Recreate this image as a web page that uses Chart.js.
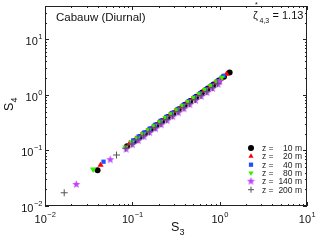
<!DOCTYPE html>
<html>
<head>
<meta charset="utf-8">
<script src="https://cdn.jsdelivr.net/npm/chart.js@4"></script>
<style>
  html, body { margin: 0; padding: 0; background: #fff; }
  #wrap { width: 319px; height: 243px; }
</style>
</head>
<body>
<div id="wrap"><canvas id="grafica" width="319" height="243"></canvas></div>
<script>
// series labels (height z)
const alturas = ['10', '20', '40', '80', '140', '200'];
const colores = ['#000000', '#ff0000', '#1f4fff', '#33ee00', '#bf3fff', '#555555'];

// S3 / S4 values
const s3_z10 = [0.040, 0.087, 0.105, 0.122, 0.140, 0.163, 0.190, 0.220, 0.255, 0.295, 0.340, 0.400, 0.460, 0.540, 0.630, 0.730, 0.850, 0.980, 1.120, 1.300];
const s4_z10 = [0.044, 0.119, 0.147, 0.174, 0.203, 0.241, 0.287, 0.338, 0.399, 0.469, 0.551, 0.661, 0.773, 0.926, 1.100, 1.300, 1.540, 1.810, 2.120, 2.540];

const s3_z20 = [0.0433, 0.093, 0.110, 0.128, 0.148, 0.172, 0.200, 0.232, 0.270, 0.310, 0.360, 0.420, 0.490, 0.570, 0.660, 0.770, 0.890, 1.030, 1.200];
const s4_z20 = [0.0546, 0.134, 0.162, 0.193, 0.226, 0.267, 0.316, 0.372, 0.440, 0.512, 0.604, 0.716, 0.850, 1.000, 1.190, 1.400, 1.660, 1.960, 2.370];

const s3_z40 = [0.0468, 0.102, 0.118, 0.137, 0.158, 0.183, 0.212, 0.245, 0.285, 0.330, 0.385, 0.445, 0.520, 0.600, 0.700, 0.810, 0.950, 1.110];
const s4_z40 = [0.0627, 0.151, 0.178, 0.210, 0.247, 0.290, 0.342, 0.402, 0.472, 0.555, 0.658, 0.772, 0.915, 1.070, 1.265, 1.490, 1.780, 2.200];

const s3_z80 = [0.0356, 0.0836, 0.098, 0.114, 0.132, 0.153, 0.178, 0.207, 0.240, 0.278, 0.322, 0.375, 0.435, 0.505, 0.585, 0.680, 0.790, 0.920, 1.060];
const s4_z80 = [0.0457, 0.114, 0.140, 0.166, 0.197, 0.232, 0.275, 0.326, 0.385, 0.453, 0.535, 0.633, 0.751, 0.885, 1.040, 1.235, 1.460, 1.730, 2.060];

const s3_z140 = [0.0228, 0.0558, 0.085, 0.100, 0.117, 0.136, 0.158, 0.184, 0.214, 0.250, 0.290, 0.337, 0.390, 0.455, 0.530, 0.615, 0.715, 0.830, 0.960, 1.000];
const s4_z140 = [0.0245, 0.068, 0.105, 0.127, 0.150, 0.177, 0.209, 0.247, 0.290, 0.344, 0.406, 0.478, 0.561, 0.667, 0.793, 0.938, 1.100, 1.300, 1.550, 1.740];

const s3_z200 = [0.0166, 0.0659, 0.084, 0.099, 0.116, 0.135, 0.157, 0.183, 0.213, 0.248, 0.288, 0.335, 0.390, 0.453, 0.527, 0.613, 0.713, 0.830, 0.950];
const s4_z200 = [0.0173, 0.0827, 0.110, 0.130, 0.155, 0.183, 0.216, 0.256, 0.303, 0.358, 0.421, 0.499, 0.587, 0.695, 0.822, 0.969, 1.145, 1.350, 1.590];

// axis tick exponents
const exp_x = [-2, -1, 0, 1];
const exp_y = [-2, -1, 0, 1];

const fuente = '"Liberation Sans", Arial, Helvetica, sans-serif';

function estrella(color, r) {
  const c = document.createElement('canvas');
  const s = Math.ceil(r * 2) + 2;
  c.width = s; c.height = s;
  const g = c.getContext('2d');
  g.fillStyle = color;
  g.beginPath();
  for (let i = 0; i < 10; i++) {
    const a = -Math.PI / 2 + i * Math.PI / 5;
    const rr = i % 2 === 0 ? r : r * 0.42;
    g.lineTo(s / 2 + rr * Math.cos(a), s / 2 + rr * Math.sin(a));
  }
  g.closePath();
  g.fill();
  return c;
}

const estrellaImg = estrella(colores[4], 4.2);

const estilos = [
  { pointStyle: 'circle', radius: 3, rotation: 0 },
  { pointStyle: 'triangle', radius: 3.6, rotation: 0 },
  { pointStyle: 'rect', radius: 3, rotation: 0 },
  { pointStyle: 'triangle', radius: 3.6, rotation: 180 },
  { pointStyle: estrellaImg, radius: 4.2, rotation: 0 },
  { pointStyle: 'cross', radius: 3.5, rotation: 0 }
];

function puntos(xs, ys) {
  return xs.map(function(v, i) { return { x: v, y: ys[i] }; });
}

const series = [
  puntos(s3_z10, s4_z10), puntos(s3_z20, s4_z20), puntos(s3_z40, s4_z40),
  puntos(s3_z80, s4_z80), puntos(s3_z140, s4_z140), puntos(s3_z200, s4_z200)
];

const datasets = series.map(function(d, i) {
  return {
    label: 'z = ' + alturas[i] + ' m',
    data: d,
    backgroundColor: colores[i],
    borderColor: colores[i],
    borderWidth: i === 5 ? 1 : 0,
    pointStyle: estilos[i].pointStyle,
    pointRadius: estilos[i].radius,
    pointRotation: estilos[i].rotation,
    order: 5 - i
  };
});

function potencia(ctx, e, x, y, align) {
  const txt = String(e).replace('-', '\u2212');
  ctx.font = '11px ' + fuente;
  const wb = ctx.measureText('10').width;
  ctx.font = '7.5px ' + fuente;
  const we = ctx.measureText(txt).width;
  let x0 = x;
  if (align === 'center') x0 = x - (wb + we) / 2;
  if (align === 'right') x0 = x - (wb + we);
  ctx.textAlign = 'left';
  ctx.textBaseline = 'alphabetic';
  ctx.font = '11px ' + fuente;
  ctx.fillText('10', x0, y);
  ctx.font = '7.5px ' + fuente;
  ctx.fillText(txt, x0 + wb + 0.5, y - 6);
}

const ejes = {
  id: 'ejes',
  afterDraw: function(chart) {
    const ctx = chart.ctx;
    const a = chart.chartArea;
    const sx = chart.scales.x;
    const sy = chart.scales.y;
    ctx.save();
    ctx.strokeStyle = '#222';
    ctx.lineWidth = 1;
    ctx.strokeRect(a.left + 0.5, a.top + 0.5, a.right - a.left - 1, a.bottom - a.top - 1);

    // ticks inward
    ctx.beginPath();
    for (let e = -2; e <= 1; e++) {
      for (let m = 1; m <= 9; m++) {
        const v = m * Math.pow(10, e);
        const len = m === 1 ? 4 : 2;
        if (v >= sx.min && v <= sx.max) {
          const px = Math.round(sx.getPixelForValue(v)) + 0.5;
          ctx.moveTo(px, a.bottom); ctx.lineTo(px, a.bottom - len);
          ctx.moveTo(px, a.top); ctx.lineTo(px, a.top + len);
        }
        if (v >= sy.min && v <= sy.max) {
          const py = Math.round(sy.getPixelForValue(v)) + 0.5;
          ctx.moveTo(a.left, py); ctx.lineTo(a.left + len, py);
          ctx.moveTo(a.right, py); ctx.lineTo(a.right - len, py);
        }
      }
    }
    ctx.stroke();

    ctx.fillStyle = '#111';
    exp_x.forEach(function(e) {
      potencia(ctx, e, sx.getPixelForValue(Math.pow(10, e)), 223, 'center');
    });
    exp_y.forEach(function(e) {
      potencia(ctx, e, a.left - 3, sy.getPixelForValue(Math.pow(10, e)) + 6, 'right');
    });

    // axis titles
    ctx.font = '12.5px ' + fuente;
    ctx.textAlign = 'left';
    const cx = (a.left + a.right) / 2;
    ctx.fillText('S', cx - 5, 231);
    ctx.font = '9px ' + fuente;
    ctx.fillText('3', cx + 3.5, 235);

    ctx.save();
    ctx.translate(13, (a.top + a.bottom) / 2);
    ctx.rotate(-Math.PI / 2);
    ctx.font = '12.5px ' + fuente;
    ctx.fillText('S', -5, 0);
    ctx.font = '9px ' + fuente;
    ctx.fillText('4', 3.5, 4);
    ctx.restore();

    // title inside
    ctx.font = '11.5px ' + fuente;
    ctx.fillText('Cabauw (Diurnal)', 56, 20.5);

    // zeta annotation
    ctx.font = '11px ' + fuente;
    ctx.fillText('\u03b6', 253, 18.5);
    ctx.font = '7px ' + fuente;
    ctx.fillText('*', 255, 7);
    ctx.fillText('4,3', 259.5, 22.5);
    ctx.font = '11px ' + fuente;
    ctx.fillText('= 1.13', 272.5, 18.5);

    // legend
    const filas = [148, 156.3, 164.7, 173, 181.3, 189.7];
    filas.forEach(function(fy, i) {
      ctx.fillStyle = colores[i];
      ctx.strokeStyle = colores[i];
      ctx.lineWidth = 1;
      Chart.helpers.drawPoint(ctx, {
        pointStyle: estilos[i].pointStyle,
        radius: i === 4 ? 4 : 3,
        rotation: estilos[i].rotation,
        borderWidth: i === 5 ? 1 : 0
      }, 251, fy);
      ctx.fillStyle = '#222';
      ctx.font = '8.5px ' + fuente;
      ctx.textAlign = 'left';
      ctx.fillText('z =', 262, fy + 3);
      ctx.textAlign = 'right';
      ctx.fillText(alturas[i] + ' m', 302, fy + 3);
    });
    ctx.restore();
  }
};

new Chart(document.getElementById('grafica'), {
  type: 'scatter',
  data: { datasets: datasets },
  options: {
    responsive: false,
    animation: false,
    layout: { padding: { left: 45, right: 12, top: 6, bottom: 37 } },
    scales: {
      x: { type: 'logarithmic', min: 0.01, max: 10, display: false },
      y: { type: 'logarithmic', min: 0.01, max: 39.8, display: false }
    },
    plugins: {
      legend: { display: false },
      tooltip: { enabled: false }
    }
  },
  plugins: [ejes]
});
</script>
</body>
</html>
